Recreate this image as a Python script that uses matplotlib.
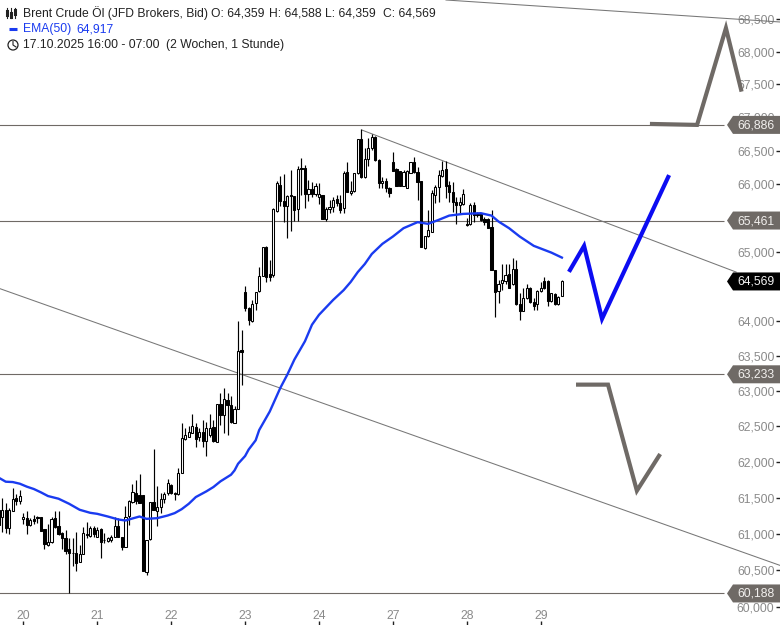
import matplotlib
matplotlib.use('Agg')
import numpy as np
import matplotlib.pyplot as plt
from matplotlib.patches import Polygon, Circle
from matplotlib.transforms import IdentityTransform

plt.rcParams['font.family'] = ['Liberation Sans', 'DejaVu Sans']

opens = [61330,61231,61333,61078,61310,61495,61449,61203,61217,61120,
         61208,61231,61231,61065,60847,60889,61217,61111,61009,60940,
         60787,60745,60745,60615,60731,60986,60977,61078,60963,61065,
         60921,60907,60917,60954,61111,60954,60824,61250,61435,61565,
         61541,61541,60476,60926,61440,61310,61370,61481,61565,61671,
         61560,61546,61842,62324,62352,62407,62481,62342,62412,62287,
         62375,62481,62282,62815,62658,62872,62800,62548,62739,63586,
         64410,64181,63991,64252,64424,64652,65079,64672,64662,65608,
         65985,65750,65677,65833,65824,65628,66237,66237,65853,65922,
         65853,65814,65833,65490,65637,65657,65775,65726,65642,66187,
         65863,65892,66162,66677,66101,66374,66540,66707,66364,66010,
         66045,65946,66328,66222,66197,65975,65936,66172,66323,66187,
         66045,65054,65226,65299,65838,65951,66126,66222,65985,65887,
         65740,65691,65706,65407,65407,65691,65559,65554,65480,65480,
         65363,64735,64433,64549,64578,64672,64525,64750,64238,64148,
         64324,64476,64267,64238,64433,64578,64574,64286,64381,64238,
         64359]
closes = [61125,61324,61078,61324,61481,61449,61528,61240,61125,61194,
          61185,61222,61046,60861,60884,61203,61092,61000,60949,60768,
          60740,60740,60600,60722,61009,60995,61078,61000,61055,60893,
          60912,60940,60963,61116,60963,60815,61240,61449,61574,61449,
          61426,60490,60916,61440,61324,61370,61481,61551,61703,61565,
          61546,61842,62329,62375,62421,62500,62315,62412,62296,62467,
          62467,62296,62815,62658,62882,62800,62563,62739,63572,63553,
          64181,64014,64238,64419,64652,65079,64638,64638,65632,66010,
          65750,65677,65824,65824,65618,66222,66227,65853,65922,65853,
          65966,65853,65490,65637,65657,65765,65716,65618,66162,65887,
          65892,66162,66677,66101,66374,66540,66707,66354,66010,66045,
          65936,65873,66202,65975,65975,66187,66197,66323,66187,66025,
          65079,65236,65324,65873,65961,66136,66212,65975,65887,65740,
          65691,65730,65853,65402,65691,65544,65544,65471,65446,65358,
          64735,64419,64539,64588,64662,64476,64745,64238,64148,64324,
          64467,64267,64214,64433,64476,64467,64290,64395,64238,64348,
          64569]
highs = [61500,61495,61426,61356,61634,61555,61602,61287,61310,61217,
         61264,61250,61240,61065,61139,61240,61319,61319,61032,61055,
         60940,60940,61023,60847,61102,61162,61111,61111,61102,61078,
         61009,60963,60986,61231,61217,60963,61379,61472,61694,61750,
         61833,61541,60916,61440,62176,61657,61565,61574,61759,61694,
         61574,61912,62537,62467,62500,62676,62537,62467,62592,62560,
         62666,62583,62815,62967,63039,62967,62920,62777,64000,63872,
         64500,64205,64300,64419,64784,65079,65089,64883,65642,66050,
         66121,66152,65838,66212,65824,66263,66389,66288,66060,66034,
         66010,66010,65833,65667,65765,65814,65838,65838,66202,66328,
         66050,66172,66677,66828,66540,66692,66742,66717,66374,66111,
         66086,65961,66480,66237,66197,66212,66212,66328,66404,66252,
         66045,65236,65618,65912,65985,66212,66338,66338,66050,66034,
         65814,65814,65922,65495,65716,65740,65593,65569,65520,65495,
         65618,64735,64588,64823,64823,64823,64907,64883,64395,64467,
         64539,64490,64324,64443,64564,64632,64588,64405,64395,64357,
         64588]
lows = [61030,61032,61009,60999,61310,61403,61416,61139,61000,61110,
        61139,61157,61046,60800,60838,60880,61078,60986,60800,60731,
        60188,60555,60490,60615,60722,60940,60963,60954,60954,60676,
        60870,60884,60893,60954,60954,60777,60824,61125,61426,61416,
        61426,60490,60444,60916,61324,61111,61287,61426,61541,61555,
        61463,61541,61842,62305,62342,62398,62213,62296,62213,62074,
        62352,62282,62282,62515,62396,62372,62539,62539,62739,63086,
        64148,63934,63976,64157,64419,64652,64564,64574,64628,65593,
        65677,65432,65211,65309,65456,65456,65838,65652,65750,65814,
        65824,65706,65490,65456,65569,65593,65677,65579,65569,65887,
        65838,65882,66152,66086,66086,66263,66515,66338,65936,65936,
        65887,65814,66202,65975,65975,65975,65936,66162,66172,65765,
        65079,65040,65216,65299,65716,65740,66111,65789,65740,65593,
        65412,65569,65691,65387,65397,65446,65520,65461,65397,65348,
        64735,64060,64262,64443,64539,64467,64515,64229,64014,64148,
        64314,64252,64157,64157,64419,64460,64214,64276,64229,64229,
        64359]

ema_idx = [0,1,2,4,6,8,10,12,14,17,20,23,26,28,31,34,36,38,40,42,45,48,50,52,54,56,59,61,63,66,67,68,
           70,71,73,74,77,80,82,84,87,89,91,95,98,100,102,104,106,109,112,115,119,122,125,128,132,137,
           140,142,145,148,152,157,160]
ema_val = [61778,61750,61722,61717,61694,61653,61620,61574,61523,61486,61416,61333,61291,61277,61240,
           61199,61185,61213,61240,61208,61217,61254,61287,61342,61416,61509,61588,61648,61727,61819,
           61879,61972,62080,62170,62300,62444,62705,63039,63229,63443,63705,63943,64086,64300,64443,
           64562,64705,64823,64970,65118,65226,65348,65437,65412,65471,65534,65559,65569,65534,65446,
           65348,65226,65089,64990,64917]

# horizontal levels and their tags
levels = [66886, 65461, 63233, 60188]
level_labels = ['66,886', '65,461', '63,233', '60,188']
last_price = 64569
last_label = '64,569'

# trend lines (bar index, price)
trend_a_x, trend_a_y = [127.07, 222.0], [68794, 68454]
trend_b_x, trend_b_y = [103.2, 209.5], [66808, 64706]
trend_c_x, trend_c_y = [0.37, 222.0], [64464, 60569]

# hand drawn scenarios
blue_x, blue_y = [162.3, 166.3, 171.4, 190.2], [64735, 65088, 64028, 66106]
up_x, up_y = [185.6, 198.4, 206.6, 210.9], [66900, 66886, 68360, 67420]
down_x, down_y = [164.6, 173.1, 181.3, 187.6], [63086, 63086, 61597, 62083]

# 64,500 and 65,500 sit fully behind the price tags, so they stay unlabelled
y_ticks = [60000,60500,61000,61500,62000,62500,63000,63500,64000,64500,65000,65500,66000,66500,67000,67500,68000,68500]
y_tick_labels = ['60,000','60,500','61,000','61,500','62,000','62,500','63,000','63,500','64,000','',
                 '65,000','','66,000','66,500','67,000','67,500','68,000','68,500']
x_ticks = [7, 28, 49, 70, 91, 112, 133, 154]
x_tick_labels = ['20', '21', '22', '23', '24', '27', '28', '29']

GREY = '#6f6a66'
BLUE = '#1a3bf0'
ARROW_BLUE = '#0c0cf2'
TICK = '#8a8a8a'

fig = plt.figure(figsize=(7.8, 6.25), dpi=100)
ax = fig.add_axes([0, 0, 1, 1])
ax.set_yscale('log')
ax.set_xlim(0.369, 221.96)
ax.set_ylim(59762, 68794)
for s in ax.spines.values():
    s.set_visible(False)
ax.set_axisbelow(True)

ax.minorticks_off()
ax.yaxis.set_ticks_position('right')
ax.set_yticks(y_ticks)
ax.set_yticklabels(y_tick_labels)
ax.yaxis.set_minor_locator(plt.NullLocator())
ax.tick_params(axis='y', direction='in', length=3, width=1, color='#222222', labelcolor=TICK,
               labelsize=8.7, pad=-4)
for t in ax.get_yticklabels():
    t.set_ha('right')
ax.set_xticks(x_ticks)
ax.set_xticklabels(x_tick_labels)
ax.tick_params(axis='x', direction='in', length=3, width=1, color='#222222', labelcolor=TICK,
               labelsize=8.7, pad=-2.5)
for t in ax.get_xticklabels():
    t.set_va('bottom')

idx = np.arange(len(opens))
o = np.array(opens)
c = np.array(closes)

# levels and trend lines
ax.hlines(levels, 0, 206, color=GREY, lw=0.8, zorder=2)
ax.plot(trend_a_x, trend_a_y, color='#777777', lw=0.75, zorder=2)
ax.plot(trend_b_x, trend_b_y, color='#777777', lw=0.75, zorder=2)
ax.plot(trend_c_x, trend_c_y, color='#777777', lw=0.75, zorder=2)

# candles
ax.vlines(idx, lows, highs, color='black', lw=0.85, zorder=3)
up = c >= o
ax.bar(idx[up], (c - o)[up], bottom=o[up], width=0.62, facecolor='white', edgecolor='black', lw=0.75, zorder=4)
ax.bar(idx[~up], (o - c)[~up], bottom=c[~up], width=0.62, facecolor='black', edgecolor='black', lw=0.75, zorder=4)

ax.plot(ema_idx, ema_val, color=BLUE, lw=1.7, zorder=5)

# scenarios
ax.plot(blue_x, blue_y, color=ARROW_BLUE, lw=3, solid_joinstyle='miter', zorder=6)
ax.plot(up_x, up_y, color=GREY, lw=3, solid_joinstyle='miter', zorder=6)
ax.plot(down_x, down_y, color=GREY, lw=3, solid_joinstyle='miter', zorder=6)

# price tags on the right, pixel sized
def price_tag(value, label, face, text_color):
    y = ax.transData.transform((0, value))[1]
    pts = [(727, y), (733, y + 9), (780, y + 9), (780, y - 9), (733, y - 9)]
    ax.add_patch(Polygon(pts, closed=True, facecolor=face, edgecolor='none', transform=IdentityTransform(),
                         clip_on=False, zorder=8))
    ax.text(737, y - 0.5, label, color=text_color, fontsize=8.7, va='center', ha='left',
            transform=IdentityTransform(), zorder=9)

for v, l in zip(levels, level_labels):
    price_tag(v, l, GREY, '#f2f0ee')
price_tag(last_price, last_label, 'black', '#f2f2f2')

# legend header, positions in pixels from the top left
H = 625
def head(x, y, s, color='#222222'):
    ax.text(x, H - y, s, color=color, fontsize=8.7, va='center', ha='left', transform=IdentityTransform(), zorder=10)

head(23, 13, 'Brent Crude Öl (JFD Brokers, Bid)')
head(211, 13, 'O: 64,359')
head(269, 13, 'H: 64,588')
head(325, 13, 'L: 64,359')
head(383, 13, 'C: 64,569')
head(23, 29, 'EMA(50)', BLUE)
head(76, 29, '64,917', BLUE)
head(23, 45, '17.10.2025 16:00 - 07:00')
head(166, 45, '(2 Wochen, 1 Stunde)')

# little icons
tr = IdentityTransform()
for x, y0, y1, b0, b1 in [(7, 8, 18, 11, 15), (11, 8, 18, 13, 17), (15, 8, 18, 10, 14)]:
    ax.plot([x, x], [H - y0, H - y1], color='#222222', lw=0.8, transform=tr, zorder=10, clip_on=False)
    ax.plot([x, x], [H - b0, H - b1], color='#222222', lw=2.2, transform=tr, zorder=10, clip_on=False)
ax.plot([9, 17], [H - 29, H - 29], color=BLUE, lw=2.2, transform=tr, zorder=10, solid_capstyle='butt')
ax.add_patch(Circle((13, H - 45), 5, facecolor='white', edgecolor='#222222', lw=0.9, transform=tr, zorder=10))
ax.plot([13, 13, 16], [H - 41.5, H - 45, H - 47], color='#222222', lw=0.8, transform=tr, zorder=11)

fig.savefig('out.png', dpi=100)
